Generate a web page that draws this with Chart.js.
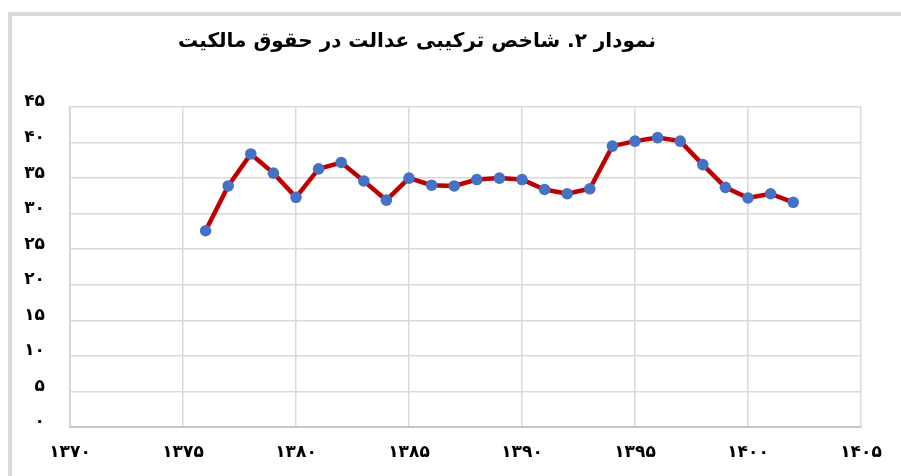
<!DOCTYPE html>
<html><head><meta charset="utf-8">
<script src="https://cdn.jsdelivr.net/npm/chart.js@4.4.1/dist/chart.umd.min.js"></script>
<style>
html,body{margin:0;padding:0;background:#fff;width:901px;height:476px;overflow:hidden;}
#frame{position:absolute;left:8px;top:12px;width:1000px;height:600px;border:4px solid #d9d9d9;box-sizing:border-box;}
#wrap{position:absolute;left:0;top:0;width:901px;height:476px;}
</style></head>
<body>
<div id="frame"></div>
<div id="wrap"><canvas id="c" width="901" height="476"></canvas></div>
<script>
const chartTitle = 'نمودار ۲. شاخص ترکیبی عدالت در حقوق مالکیت';
const years = [1376,1377,1378,1379,1380,1381,1382,1383,1384,1385,1386,1387,1388,1389,1390,1391,1392,1393,1394,1395,1396,1397,1398,1399,1400,1401,1402];
const values = [27.6,33.9,38.4,35.7,32.3,36.3,37.2,34.6,31.9,35.0,34.0,33.9,34.8,35.0,34.8,33.4,32.8,33.5,39.5,40.2,40.7,40.2,36.9,33.7,32.2,32.8,31.6];
const xTickValues = [1370,1375,1380,1385,1390,1395,1400,1405];
const xTickLabels = ['۱۳۷۰','۱۳۷۵','۱۳۸۰','۱۳۸۵','۱۳۹۰','۱۳۹۵','۱۴۰۰','۱۴۰۵'];
const yTickValues = [0,5,10,15,20,25,30,35,40,45];
const yTickLabels = ['۰','۵','۱۰','۱۵','۲۰','۲۵','۳۰','۳۵','۴۰','۴۵'];

const FONT = "'DejaVu Sans', sans-serif";
const titlePlugin = {
  id: 'customTitle',
  afterDraw(chart) {
    const ctx = chart.ctx;
    ctx.save();
    ctx.font = "bold 20px " + FONT;
    ctx.fillStyle = '#000';
    ctx.textAlign = 'center';
    ctx.textBaseline = 'middle';
    ctx.direction = 'rtl';
    ctx.fillText(chartTitle, 417, 42);
    ctx.restore();
  }
};

new Chart(document.getElementById('c'), {
  type: 'line',
  data: {
    datasets: [{
      data: years.map((y, i) => ({x: y, y: values[i]})),
      borderColor: '#c00000',
      borderWidth: 4.5,
      pointBackgroundColor: '#4472c4',
      pointBorderColor: '#4472c4',
      pointRadius: 5.8,
      pointBorderWidth: 0,
      tension: 0,
      fill: false
    }]
  },
  options: {
    responsive: false,
    animation: false,
    devicePixelRatio: 1,
    layout: { padding: { top: 107, right: 40, left: 0, bottom: 0 } },
    plugins: { legend: { display: false }, tooltip: { enabled: false }, title: { display: false } },
    scales: {
      x: {
        type: 'linear', min: 1370, max: 1405,
        afterBuildTicks(s) { s.ticks = xTickValues.map(v => ({value: v})); },
        afterFit(s) { s.height = 49; },
        grid: { color: '#d9d9d9', lineWidth: 1.5, drawTicks: false },
        border: { color: '#c8c8c8', width: 2 },
        ticks: {
          padding: 15,
          color: '#000',
          font: { family: FONT, size: 17, weight: 'bold' },
          maxRotation: 0,
          callback: (v) => { const i = xTickValues.indexOf(v); return i >= 0 ? xTickLabels[i] : ''; }
        }
      },
      y: {
        type: 'linear', min: 0, max: 45,
        afterBuildTicks(s) { s.ticks = yTickValues.map(v => ({value: v})); },
        afterFit(s) { s.width = 70; },
        grid: { color: '#d9d9d9', lineWidth: 1.5, drawTicks: false },
        border: { color: '#d0d0d0', width: 1.5 },
        ticks: {
          padding: 25,
          labelOffset: -5,
          color: '#000',
          font: { family: FONT, size: 17, weight: 'bold' },
          callback: (v) => { const i = yTickValues.indexOf(v); return i >= 0 ? yTickLabels[i] : ''; }
        }
      }
    }
  },
  plugins: [titlePlugin]
});
</script>
</body></html>
